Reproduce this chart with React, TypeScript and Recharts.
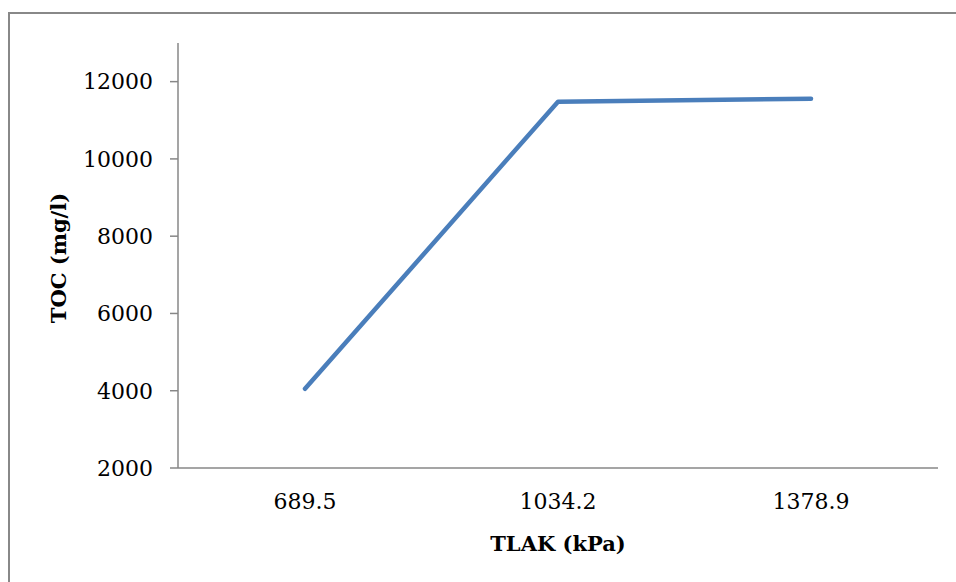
import React from 'react';
import { LineChart, Line, XAxis, YAxis, Label } from 'recharts';

const categories = ['689.5', '1034.2', '1378.9'];
const tocValues = [4050, 11480, 11560];
const yTicks = [2000, 4000, 6000, 8000, 10000, 12000];
const yDomain = [2000, 13000];

const data = categories.map((c, i) => ({ pressure: c, toc: tocValues[i] }));

const FONT = '"DejaVu Serif", "Liberation Serif", serif';
const AXIS_COLOR = '#878787';

const YTitle = () => (
  <text
    x={58}
    y={258}
    transform="rotate(-90, 58, 258)"
    textAnchor="middle"
    dominantBaseline="central"
    fontFamily={FONT}
    fontWeight="bold"
    fontSize={21}
    fill="#000"
  >
    TOC (mg/l)
  </text>
);

export default function App() {
  return (
    <div style={{ position: 'fixed', left: 0, top: 0, width: 956, height: 582, background: '#fff', overflow: 'hidden' }}>
      <div
        style={{
          position: 'absolute',
          left: 8,
          top: 12,
          width: 1000,
          height: 700,
          borderTop: '2px solid #888',
          borderLeft: '2px solid #888',
        }}
      />
      <div style={{ position: 'absolute', left: 0, top: 0 }}>
        <LineChart
          width={956}
          height={582}
          data={data}
          margin={{ top: 43, right: 18, bottom: 84, left: 118 }}
        >
          <XAxis
            dataKey="pressure"
            height={30}
            padding={{ left: 127, right: 127 }}
            tickLine={false}
            tickSize={0}
            tickMargin={25}
            axisLine={{ stroke: AXIS_COLOR, strokeWidth: 1.5 }}
            tick={{ fill: '#000', fontSize: 22, fontFamily: FONT }}
          >
            <Label
              value="TLAK (kPa)"
              position="bottom"
              offset={38}
              style={{ fill: '#000', fontSize: 21, fontWeight: 'bold', fontFamily: FONT }}
            />
          </XAxis>
          <YAxis
            width={60}
            domain={yDomain}
            ticks={yTicks}
            allowDataOverflow
            tickSize={8}
            tickMargin={17}
            axisLine={{ stroke: AXIS_COLOR, strokeWidth: 1.5 }}
            tickLine={{ stroke: AXIS_COLOR, strokeWidth: 1.5 }}
            tick={{ fill: '#000', fontSize: 22, fontFamily: FONT }}
          >
            <Label content={<YTitle />} />
          </YAxis>
          <Line
            dataKey="toc"
            type="linear"
            stroke="#4a7ebb"
            strokeWidth={4.5}
            strokeLinecap="round"
            strokeLinejoin="round"
            dot={false}
            activeDot={false}
            isAnimationActive={false}
          />
        </LineChart>
      </div>
    </div>
  );
}
